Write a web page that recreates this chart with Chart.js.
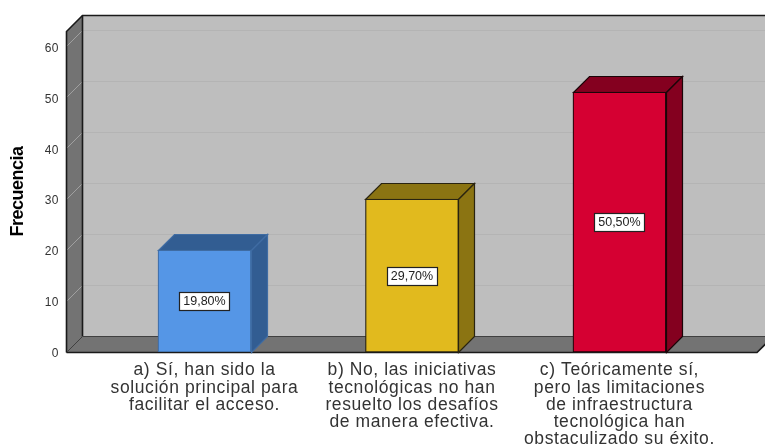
<!DOCTYPE html>
<html><head><meta charset="utf-8">
<style>html,body{margin:0;padding:0;background:#fff}#w{width:765px;height:444px}</style>
<script src="https://cdn.jsdelivr.net/npm/chart.js@4"></script></head>
<body><div id="w"><canvas id="c" width="765" height="444"></canvas></div>
<script>
const categories=[
 ["a) Sí, han sido la","solución principal para","facilitar el acceso."],
 ["b) No, las iniciativas","tecnológicas no han","resuelto los desafíos","de manera efectiva."],
 ["c) Teóricamente sí,","pero las limitaciones","de infraestructura","tecnológica han","obstaculizado su éxito."]
];
const frecuencia=[20,30,51];
const porcentajes=["19,80%","29,70%","50,50%"];
const barColors=["#5596E6","#E1BA1E","#D50032"];
const sideColors=["#325D92","#8B7412","#84001F"];
const edgeColors=["#3F6CA3","#2A2410","#1A0508"];
const yTicks=[0,10,20,30,40,50,60];
const DEPTH=16;
const font='"Liberation Sans", Arial, sans-serif';

const box3d={
 id:'box3d',
 beforeDatasetsDraw(chart){
  const {ctx,chartArea:a,scales:{y}}=chart;
  const d=DEPTH, L=a.left+.5, R=a.right, T=a.top+.5, B=a.bottom+.5;
  const poly=(pts,fill,stroke,lw)=>{ctx.beginPath();pts.forEach((p,i)=>i?ctx.lineTo(p[0],p[1]):ctx.moveTo(p[0],p[1]));ctx.closePath();
    if(fill){ctx.fillStyle=fill;ctx.fill();} if(stroke){ctx.strokeStyle=stroke;ctx.lineWidth=lw||1;ctx.stroke();}};
  ctx.save();
  poly([[L+d,T-d],[R+d,T-d],[R+d,B-d],[L+d,B-d]],'#BEBEBE');
  poly([[L,T],[L+d,T-d],[L+d,B-d],[L,B]],'#737373');
  poly([[L,B],[L+d,B-d],[R+d,B-d],[R,B]],'#737373');
  yTicks.slice(1).forEach(v=>{
    const p=Math.round(y.getPixelForValue(v))+.5;
    ctx.lineWidth=1;
    ctx.strokeStyle='#A0A0A0';ctx.beginPath();ctx.moveTo(L,p);ctx.lineTo(L+d,p-d);ctx.stroke();
    ctx.strokeStyle='#B4B4B4';ctx.beginPath();ctx.moveTo(L+d,p-d);ctx.lineTo(R+d,p-d);ctx.stroke();
  });
  ctx.strokeStyle='#1a1a1a';ctx.lineWidth=1.6;
  ctx.beginPath();ctx.moveTo(L,B);ctx.lineTo(L,T);ctx.lineTo(L+d,T-d);ctx.lineTo(R+d,T-d);ctx.stroke();
  ctx.beginPath();ctx.moveTo(L+d,T-d);ctx.lineTo(L+d,B-d);ctx.stroke();
  ctx.beginPath();ctx.moveTo(L,B);ctx.lineTo(R,B);ctx.lineTo(R+d,B-d);ctx.stroke();
  ctx.strokeStyle='#404040';ctx.lineWidth=1;
  ctx.beginPath();ctx.moveTo(L+d,B-d);ctx.lineTo(R+d,B-d);ctx.stroke();
  ctx.beginPath();ctx.moveTo(L,B);ctx.lineTo(L+d,B-d);ctx.stroke();
  chart.getDatasetMeta(0).data.forEach((el,i)=>{
    const l=Math.round(el.x-el.width/2)+.5, r=l+Math.round(el.width), t=Math.round(el.y)+.5, b=B;
    poly([[l,t],[l+d,t-d],[r+d,t-d],[r,t]],sideColors[i],edgeColors[i],1.2);
    poly([[r,t],[r+d,t-d],[r+d,b-d],[r,b]],sideColors[i],edgeColors[i],1.2);
  });
  ctx.restore();
 },
 afterDatasetsDraw(chart){
  const {ctx}=chart;
  ctx.save();
  ctx.font='12.5px '+font;ctx.textAlign='center';ctx.textBaseline='middle';
  chart.getDatasetMeta(0).data.forEach((el,i)=>{
    const cx=el.x, cy=(el.y+el.base)/2;
    const w=50,h=18,x=Math.round(cx-w/2)+.5,yy=Math.round(cy-h/2)+.5;
    ctx.fillStyle='#fff';ctx.fillRect(x,yy,w,h);
    ctx.strokeStyle='#222';ctx.lineWidth=1.2;ctx.strokeRect(x,yy,w,h);
    ctx.fillStyle='#222';ctx.fillText(porcentajes[i],cx,cy+.5);
  });
  ctx.restore();
 }
};

function tuneLabels(s,spacing,dy,titleSpacing){
  if(s._tuned) return; s._tuned=true;
  const orig=s.drawLabels;
  s.drawLabels=function(a){
    const c=this.ctx;c.save();c.letterSpacing=spacing;c.translate(0,dy);orig.call(this,a);c.restore();
  };
  if(titleSpacing){
    const origT=s.drawTitle;
    s.drawTitle=function(){
      const c=this.ctx;c.save();c.letterSpacing=titleSpacing;origT.call(this);c.restore();
    };
  }
}

new Chart(document.getElementById('c'),{
 type:'bar',
 data:{datasets:[{
  data:frecuencia.map((v,i)=>({x:i+1,y:v})),
  backgroundColor:barColors,borderColor:edgeColors,borderWidth:1.2,
  barThickness:93,
  borderSkipped:false
 }]},
 plugins:[box3d],
 options:{
  responsive:false,animation:false,
  layout:{padding:{top:31,right:8,left:0,bottom:0}},
  plugins:{legend:{display:false},tooltip:{enabled:false}},
  scales:{
   x:{type:'linear',offset:false,min:0.3325,max:3.663,
    grid:{display:false,drawTicks:false,offset:false},border:{display:false},
    afterBuildTicks(s){s.ticks=categories.map((_,i)=>({value:i+1}));},
    afterFit(s){s.height=92;tuneLabels(s,'0.6px',0);},
    ticks:{autoSkip:false,maxRotation:0,minRotation:0,padding:10,color:'#333',
      font:{family:font,size:17.5,lineHeight:0.98},
      callback:(v)=>categories[v-1]}
   },
   y:{min:0,max:63,
    grid:{display:false,drawTicks:false},border:{display:false},
    afterBuildTicks(s){s.ticks=yTicks.map(v=>({value:v}));},
    afterFit(s){s.width=66;tuneLabels(s,'0.5px',2,'-0.5px');},
    title:{display:true,text:'Frecuencia',color:'#000',padding:{top:7,bottom:0},
      font:{family:font,size:18,weight:'bold'}},
    ticks:{padding:7,color:'#333',font:{family:font,size:12},callback:v=>v}
   }
  }
 }
});
</script></body></html>
